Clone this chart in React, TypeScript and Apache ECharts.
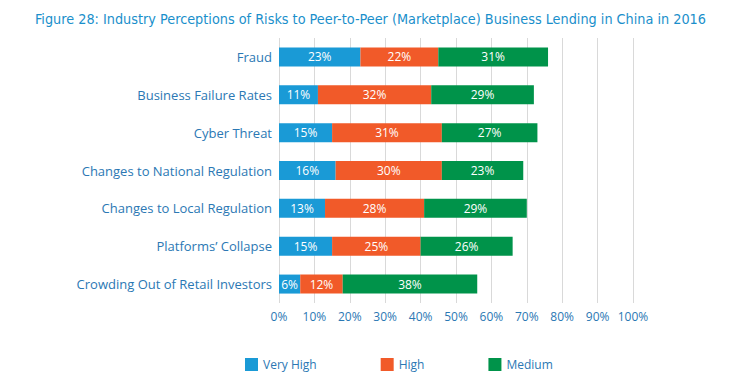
import React, { useEffect, useRef } from "react";
import * as echarts from "echarts";

const categories = [
  "Fraud",
  "Business Failure Rates",
  "Cyber Threat",
  "Changes to National Regulation",
  "Changes to Local Regulation",
  "Platforms’ Collapse",
  "Crowding Out of Retail Investors",
];
const veryHigh = [23, 11, 15, 16, 13, 15, 6];
const high = [22, 32, 31, 30, 28, 25, 12];
const medium = [31, 29, 27, 23, 29, 26, 38];
const seriesNames = ["Very High", "High", "Medium"];
const colors = ["#1a9ad6", "#f15a29", "#00934a"];
const titleText =
  "Figure 28: Industry Perceptions of Risks to Peer-to-Peer (Marketplace) Business Lending in China in 2016";

const textBlue = "#2b78b4";
const font = "Open Sans";

export default function App() {
  const ref = useRef<HTMLDivElement>(null);
  useEffect(() => {
    const chart = echarts.init(ref.current!, null, { renderer: "svg" });
    const data = [veryHigh, high, medium];
    chart.setOption({
      animation: false,
      title: {
        text: titleText,
        left: 30,
        top: 7,
        textStyle: {
          color: "#1a8fcb",
          fontSize: 14.3,
          fontWeight: "normal",
          fontFamily: "'DejaVu Sans Condensed', 'Liberation Sans'",
        },
      },
      legend: {
        left: 240,
        top: 353,
        itemWidth: 13,
        itemHeight: 13,
        itemGap: 64,
        icon: "rect",
        textStyle: { color: textBlue, fontSize: 12, fontFamily: font },
        data: seriesNames,
      },
      grid: { left: 279, right: 104, top: 38, bottom: 73 },
      xAxis: {
        type: "value",
        min: 0,
        max: 100,
        interval: 10,
        axisLine: { show: false },
        axisTick: { show: false },
        splitLine: { lineStyle: { color: "#d9d9d9", width: 1 } },
        axisLabel: {
          formatter: "{value}%",
          color: textBlue,
          fontSize: 12,
          fontFamily: font,
          margin: 7,
        },
      },
      yAxis: {
        type: "category",
        inverse: true,
        data: categories,
        axisLine: { show: false },
        axisTick: { show: false },
        axisLabel: {
          color: textBlue,
          fontSize: 13,
          fontFamily: font,
          margin: 7,
        },
      },
      series: data.map((d, i) => ({
        name: seriesNames[i],
        type: "bar",
        stack: "total",
        barWidth: 19,
        itemStyle: { color: colors[i] },
        label: {
          show: true,
          position: "inside",
          formatter: "{c}%",
          color: "#fff",
          fontSize: 12,
          fontFamily: font,
        },
        data: d,
      })),
    });
    return () => chart.dispose();
  }, []);
  return (
    <div
      ref={ref}
      style={{ position: "absolute", left: 0, top: 0, width: 737, height: 376 }}
    />
  );
}
